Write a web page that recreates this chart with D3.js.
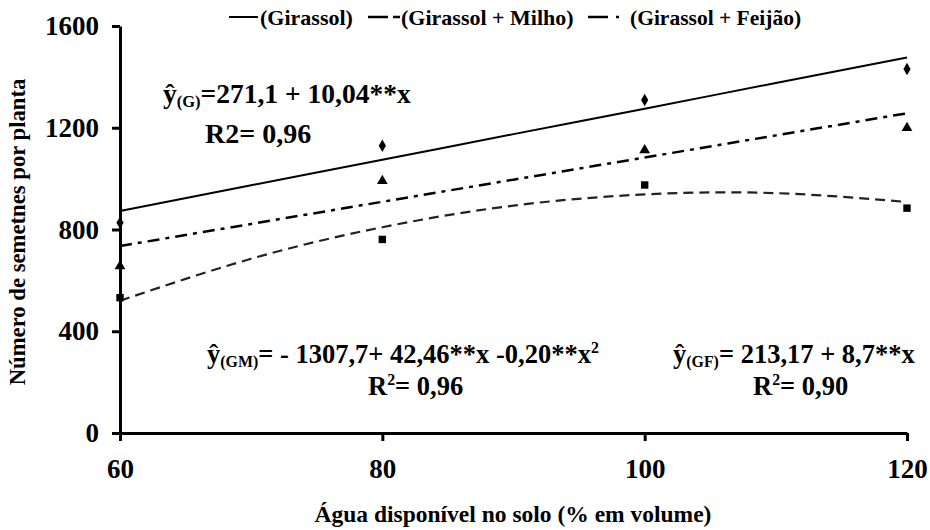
<!DOCTYPE html>
<html><head><meta charset="utf-8">
<script src="https://cdn.jsdelivr.net/npm/d3@7/dist/d3.min.js"></script>
<style>
body{margin:0;background:#fff;}
text{font-family:"Liberation Serif","Times New Roman",serif;font-weight:bold;fill:#000;}
</style></head>
<body><svg id="c" width="930" height="530"></svg>
<script>
const xVals = [60, 80, 100, 120];
const girassol = [827, 1129, 1309, 1431];
const girassolMilho = [532, 761, 975, 884];
const girassolFeijao = [656, 991, 1112, 1199];
const trendX = [60, 70, 80, 90, 100, 110, 120];
const trendG = [873, 974, 1074, 1175, 1275, 1376, 1476];
const trendGM = [520, 685, 809, 894, 938, 943, 908];
const trendGF = [735, 822, 909, 996, 1083, 1170, 1257];
const xTicks = [60, 80, 100, 120];
const yTicks = [0, 400, 800, 1200, 1600];
const legendLabels = ["(Girassol)", "(Girassol + Milho)", "(Girassol + Feijão)"];

const svg = d3.select("#c");
const x = d3.scaleLinear().domain([60, 120]).range([120, 907]);
const y = d3.scaleLinear().domain([0, 1600]).range([433, 26]);

// axes
const gy = svg.append("g").attr("transform", "translate(120,0)")
  .call(d3.axisLeft(y).tickValues(yTicks).tickSize(8).tickSizeOuter(0).tickPadding(13).tickFormat(d3.format("d")));
const gx = svg.append("g").attr("transform", "translate(0,433)")
  .call(d3.axisBottom(x).tickValues(xTicks).tickSize(8).tickSizeOuter(0).tickPadding(18).tickFormat(d3.format("d")));
[gx, gy].forEach(g => {
  g.select(".domain").attr("stroke", "#000").attr("stroke-width", 3);
  g.selectAll(".tick line").attr("stroke", "#000").attr("stroke-width", 3);
  g.selectAll(".tick text").attr("font-size", 27).attr("font-family", "Liberation Serif").attr("font-weight", "bold").attr("fill", "#000");
});

// axis titles
svg.append("text").attr("x", 513).attr("y", 522).attr("text-anchor", "middle")
  .attr("font-size", 23.5).text("Água disponível no solo (% em volume)");
svg.append("text").attr("transform", "translate(25,232) rotate(-90)").attr("text-anchor", "middle")
  .attr("font-size", 22.7).text("Número de semetnes por planta");

// trend lines
const line = d3.line().x((d, i) => x(trendX[i])).y(d => y(d)).curve(d3.curveNatural);
svg.append("path").datum(trendG).attr("d", line).attr("fill", "none").attr("stroke", "#000").attr("stroke-width", 2);
svg.append("path").datum(trendGF).attr("d", line).attr("fill", "none").attr("stroke", "#000").attr("stroke-width", 2.5)
  .attr("stroke-dasharray", "12,6,4,6");
svg.append("path").datum(trendGM).attr("d", line).attr("fill", "none").attr("stroke", "#222").attr("stroke-width", 2.2)
  .attr("stroke-dasharray", "10,6");

// markers
const sym = (type, size) => d3.symbol().type(type).size(size)();
const series = [
  {vals: girassol, type: d3.symbolDiamond, size: 45},
  {vals: girassolFeijao, type: d3.symbolTriangle, size: 50},
  {vals: girassolMilho, type: d3.symbolSquare, size: 55}
];
series.forEach(s => {
  svg.append("g").selectAll("path").data(s.vals).join("path")
    .attr("d", sym(s.type, s.size))
    .attr("transform", (d, i) => `translate(${x(xVals[i])},${y(d)})`)
    .attr("fill", "#000");
});

// legend
const lg = svg.append("g");
lg.append("line").attr("x1", 229).attr("x2", 258).attr("y1", 17).attr("y2", 17).attr("stroke", "#000").attr("stroke-width", 2);
lg.append("text").attr("x", 260).attr("y", 25).attr("font-size", 22).text(legendLabels[0]);
lg.append("line").attr("x1", 368).attr("x2", 388).attr("y1", 17).attr("y2", 17).attr("stroke", "#000").attr("stroke-width", 2.5);
lg.append("line").attr("x1", 393).attr("x2", 400).attr("y1", 17).attr("y2", 17).attr("stroke", "#000").attr("stroke-width", 2.5);
lg.append("text").attr("x", 401).attr("y", 25).attr("font-size", 22).text(legendLabels[1]);
lg.append("line").attr("x1", 588).attr("x2", 608).attr("y1", 17).attr("y2", 17).attr("stroke", "#000").attr("stroke-width", 2.5);
lg.append("line").attr("x1", 616).attr("x2", 619).attr("y1", 17).attr("y2", 17).attr("stroke", "#000").attr("stroke-width", 2.5);
lg.append("text").attr("x", 630).attr("y", 25).attr("font-size", 21.5).text(legendLabels[2]);

// equations
function eq(xp, yp, parts, size) {
  const t = svg.append("text").attr("x", xp).attr("y", yp).attr("font-size", size);
  parts.forEach(p => {
    const ts = t.append("tspan").text(p.t);
    if (p.sub) ts.attr("font-size", size * 0.6).attr("dy", size * 0.14);
    if (p.back) ts.attr("dy", -size * 0.14);
    if (p.sup) ts.attr("font-size", size * 0.6).attr("dy", -size * 0.36);
    if (p.down) ts.attr("dy", size * 0.36);
  });
}
eq(163, 103, [{t: "ŷ"}, {t: "(G)", sub: true}, {t: "=271,1 + 10,04**x", back: true}], 27.5);
eq(205, 143, [{t: "R2= 0,96"}], 28);
eq(207, 363, [{t: "ŷ"}, {t: "(GM)", sub: true}, {t: "= - 1307,7+ 42,46**x -0,20**x", back: true}, {t: "2", sup: true}], 26.5);
eq(368, 395, [{t: "R"}, {t: "2", sup: true}, {t: "= 0,96", down: true}], 26.5);
eq(673, 363, [{t: "ŷ"}, {t: "(GF)", sub: true}, {t: "= 213,17 + 8,7**x", back: true}], 26.5);
eq(753, 395, [{t: "R"}, {t: "2", sup: true}, {t: "= 0,90", down: true}], 26.5);
</script></body></html>
